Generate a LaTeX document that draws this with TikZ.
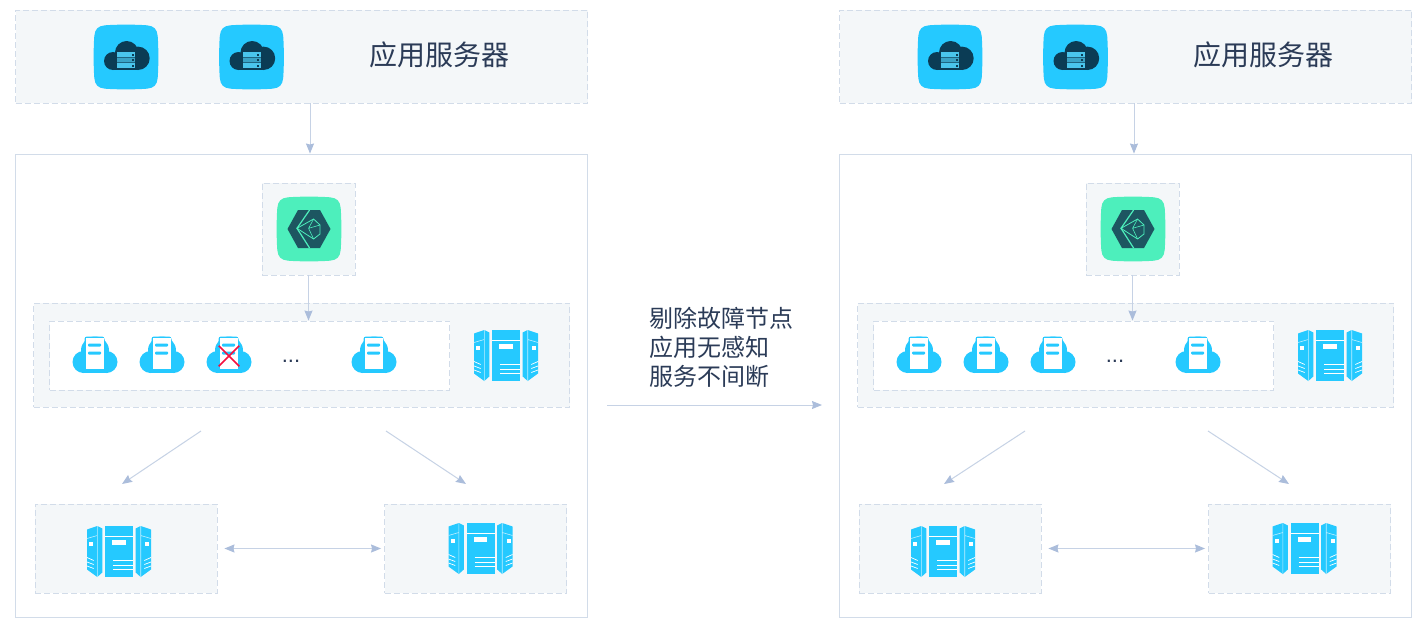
\documentclass[tikz,border=0pt]{standalone}
\usepackage{fontspec}
\newfontfamily\cjk{Noto Sans CJK SC}
\setmainfont{Liberation Sans}
\usetikzlibrary{shapes,arrows.meta,positioning,calc}
\definecolor{skyblue}{HTML}{25C9FF}
\definecolor{cloudnavy}{HTML}{0B3C55}
\definecolor{stackblue}{HTML}{4AC5EC}
\definecolor{mintgreen}{HTML}{4DEFBC}
\definecolor{hexteal}{HTML}{1D5661}
\definecolor{panelgray}{HTML}{F4F7F9}
\definecolor{edgeblue}{HTML}{D2DCE9}
\definecolor{arrowblue}{HTML}{C6D2E5}
\definecolor{tipblue}{HTML}{ABBDDB}
\definecolor{labelnavy}{HTML}{2B3B57}
\definecolor{failred}{HTML}{F5103F}

\newcommand{\squircle}{
  (-21,-31.7) .. controls (-8,-32.6) and (8,-32.6) .. (21,-31.7)
  .. controls (28,-31) and (31,-28) .. (31.7,-21)
  .. controls (32.6,-8) and (32.6,8) .. (31.7,21)
  .. controls (31,28) and (28,31) .. (21,31.7)
  .. controls (8,32.6) and (-8,32.6) .. (-21,31.7)
  .. controls (-28,31) and (-31,28) .. (-31.7,21)
  .. controls (-32.6,8) and (-32.6,-8) .. (-31.7,-21)
  .. controls (-31,-28) and (-28,-31) .. (-21,-31.7) -- cycle}

\tikzset{
  appicon/.pic={
    \fill[skyblue] \squircle;
    % cloud
    \fill[cloudnavy] (0.7,-4.3) circle (11.7) (-13,4) circle (9) (12,1.3) circle (11.7);
    \fill[cloudnavy] (-13,3) rectangle (12,13);
    % stack
    \fill[stackblue] (-8.7,-4.7) rectangle (9,11.3);
    \fill[stackblue!75!cloudnavy] (-8.7,0.6) rectangle (9,5.4);
    \draw[cloudnavy!70!stackblue, line width=0.6pt] (-8.7,0.6) -- (9,0.6) (-8.7,5.7) -- (9,5.7);
    \foreach \rowy in {-2,3,8.5} {
      \fill[cloudnavy] (5.5,\rowy-1) rectangle (7.7,\rowy+1);
    }
  },
  proxyicon/.pic={
    \fill[mintgreen] \squircle;
    \fill[hexteal] (-21.5,0) -- (-11,-19) -- (11,-19) -- (21.5,0) -- (11,19) -- (-11,19) -- cycle;
    \draw[mintgreen, line width=1.2pt] (0.6,-19) -- (-12,-0.7) -- (0.6,19);
    \draw[mintgreen, line width=0.8pt] (-12,-0.7) -- (4.6,-10) -- (11,-4) -- (11,5) -- (4.6,10) -- cycle;
    \draw[mintgreen, line width=0.6pt] (-0.4,-0.7) -- (4.6,-10) (-0.4,-0.7) -- (11,-4) (-0.4,-0.7) -- (4.6,10);
  },
  cloudnode/.pic={
    \fill[skyblue] (-11.5,7) circle (11) (11.5,7) circle (11) (0,-4.5) circle (14);
    \fill[skyblue] (-11.5,6) rectangle (11.5,18);
    \fill[skyblue, rounded corners=2.5pt] (-10.5,-18.5) rectangle (9.5,10);
    \fill[white] (-9.5,-17) rectangle (8.5,14);
    \fill[skyblue, rounded corners=1pt] (-7,-11.5) rectangle (6.2,-8.5) (-7,-3.5) rectangle (6.2,-0.5);
  },
  serverwing/.pic={
    \fill[skyblue] (-32,-22) -- (-21.7,-25.5) -- (-16.7,-23) -- (-16.7,21) -- (-21.7,25.5) -- (-32,18) -- cycle;
    \draw[white!70!skyblue, line width=0.6pt] (-21.7,-25.5) -- (-21.7,25.5) (-32,-13) -- (-21.7,-16);
    \fill[white] (-30,-10) rectangle (-26,-6);
    \draw[white, line width=0.7pt] (-32,6) -- (-25.3,9) (-32,10.5) -- (-25.3,13) (-32,14.5) -- (-25.3,17);
  },
  servericon/.pic={
    \fill[skyblue] (-14,-25.5) rectangle (14,25.5);
    \draw[white, line width=0.8pt] (-14,-15.5) -- (14,-15.5);
    \fill[white] (-7,-11.5) rectangle (6.5,-6.5);
    \draw[white, line width=0.8pt] (-6,9) -- (14,9) (-6,13.5) -- (14,13.5) (-6,18) -- (14,18);
    \pic {serverwing};
    \pic[xscale=-1] {serverwing};
  }
}

\begin{document}
\begin{tikzpicture}[
  x=1pt, y=-1pt,
  dashbox/.style={
    draw=edgeblue,
    dashed,
    dash pattern=on 6pt off 3pt,
    line width=0.9pt,
    fill=#1,
    inner sep=0pt
  },
  dashbox/.default=panelgray,
  framebox/.style={
    draw=edgeblue,
    line width=0.9pt,
    fill=white,
    inner sep=0pt
  },
  flow/.style={
    draw=arrowblue,
    line width=1pt,
    -{Stealth[length=10pt,width=8pt,inset=1pt,color=tipblue]}
  },
  label/.style={
    text=labelnavy,
    inner sep=0pt
  }
]
\useasboundingbox (0,0) rectangle (1417,624);

% -------- Two panels --------
\foreach \side/\off/\nudge in {l/0/0, r/824/2} {
\begin{scope}[shift={(\off,0)}, name prefix=\side-]
  \node[dashbox, minimum width=572pt, minimum height=93pt] (apps) at (301.5,56.5) {};
  \node[framebox, minimum width=572pt, minimum height=463pt] (outer) at (301.5,385.5) {};
  \node[dashbox, minimum width=93pt, minimum height=92pt] (proxy) at (308.5,229) {};
  \node[dashbox, minimum width=536pt, minimum height=104pt] (cluster) at (301.5,355) {};
  \node[dashbox=white, minimum width=400pt, minimum height=69pt] (nodes) at (249.5,355.5) {};
  \node[dashbox, minimum width=182pt, minimum height=89pt] (dba) at (126,548.5) {};
  \node[dashbox, minimum width=182pt, minimum height=89pt] (dbb) at (475.5,548.5) {};

  \pic at (126,57) {appicon};
  \pic at (251.5,57) {appicon};
  \node[label, font=\cjk\fontsize{28}{32}\selectfont] (appname) at (439,55) {应用服务器};

  \pic at (309,229) {proxyicon};

  \pic at (95,355) {cloudnode};
  \pic at (162,355) {cloudnode};
  \pic at (229,355) {cloudnode};
  \pic at (374,355) {cloudnode};
  \node[label, font=\fontsize{22}{26}\selectfont] (more) at (291,361) {...};
  \pic at (506,355.5) {servericon};

  \pic at (119,551.5) {servericon};
  \pic at (480.5,548.5) {servericon};

  \coordinate (fromleft) at (201,431);
  \coordinate (toleft) at (122-\nudge,484);
  \coordinate (fromright) at (386-\nudge,431);
  \coordinate (toright) at (466-\nudge/2,484);

  \draw[flow] ([xshift=8.5pt]apps.south) -- ([xshift=8.5pt]outer.north);
  \draw[flow] (proxy.south) -- (proxy.south |- nodes.north);
  \draw[flow] (fromleft) -- (toleft);
  \draw[flow] (fromright) -- (toright);
  \draw[flow, {Stealth[length=10pt,width=8pt,inset=1pt,color=tipblue]}-{Stealth[length=10pt,width=8pt,inset=1pt,color=tipblue]}, shorten <=7pt, shorten >=3pt] (dba.east) -- (dbb.west);
\end{scope}
}

% -------- Failed node --------
\node[cross out, draw=failred, line width=1.5pt, minimum size=19pt, inner sep=0pt] (failmark) at (229,356) {};

% -------- Failover --------
\node[label, align=left, anchor=west, font=\cjk\fontsize{24}{29}\selectfont] (failover) at (649,347)
{剔除故障节点\\应用无感知\\服务不间断};

\coordinate (swapfrom) at (607,405);
\coordinate (swapto) at (822,405);
\draw[flow] (swapfrom) -- (swapto);

\end{tikzpicture}
\end{document}
